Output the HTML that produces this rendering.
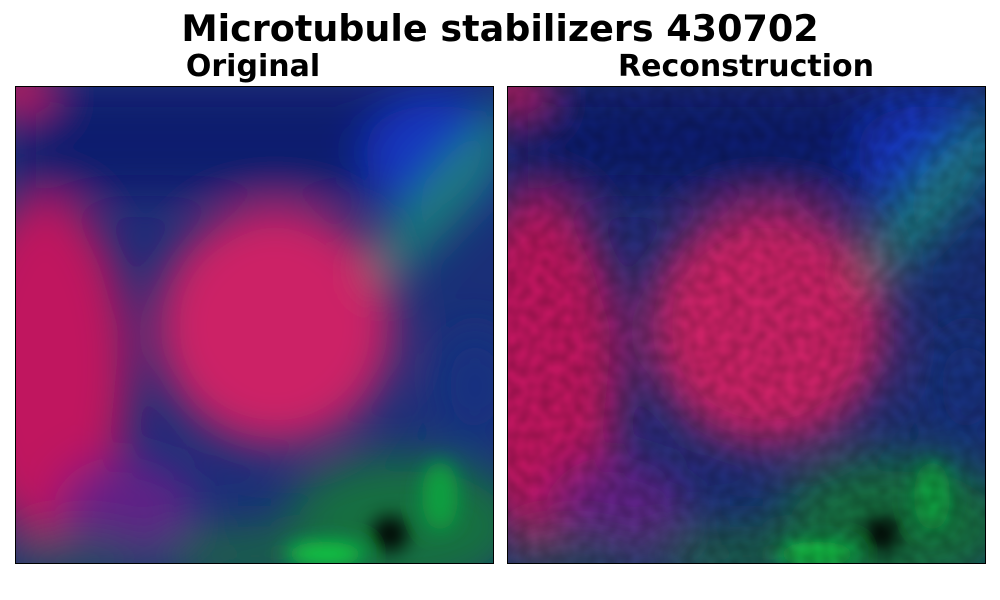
<!DOCTYPE html>
<html><head><meta charset="utf-8"><style>
body{margin:0;background:#fff;width:1000px;height:600px;overflow:hidden;font-family:"DejaVu Sans","Liberation Sans",sans-serif}
.t{position:absolute;font-weight:bold;color:#000;white-space:nowrap;transform:translateX(-50%)}
</style></head><body>
<div class="t" style="left:500px;top:7px;font-size:36.5px">Microtubule stabilizers 430702</div>
<div class="t" style="left:253px;top:49px;font-size:30px">Original</div>
<div class="t" style="left:746px;top:49px;font-size:30px">Reconstruction</div>
<svg width="1000" height="600" style="position:absolute;left:0;top:0">
<defs>
<filter id="b" x="-50%" y="-50%" width="200%" height="200%"><feGaussianBlur stdDeviation="22"/></filter>
<filter id="b2" x="-50%" y="-50%" width="200%" height="200%"><feGaussianBlur stdDeviation="10"/></filter>
<filter id="n"><feTurbulence type="fractalNoise" baseFrequency="0.09" numOctaves="1" seed="3"/><feColorMatrix values="0 0 0 0 0 0 0 0 0 0 0 0 0 0 0 0 0 0 0.35 -0.08"/></filter>
<clipPath id="c"><rect width="478" height="477"/></clipPath>
<g id="img">
<rect width="478" height="477" fill="#1a2f78"/>
<g filter="url(#b)">
<rect x="0" y="0" width="478" height="110" fill="#101a6e"/>
<ellipse cx="420" cy="70" rx="70" ry="60" fill="#1436c0"/>
<ellipse cx="0" cy="0" rx="35" ry="25" fill="#d01458"/>
<ellipse cx="30" cy="280" rx="85" ry="170" fill="#c0145e"/>
<ellipse cx="110" cy="420" rx="70" ry="50" fill="#6a2088" opacity="0.85"/>
<ellipse cx="260" cy="240" rx="120" ry="120" fill="#cc2466"/>
<ellipse cx="430" cy="110" rx="25" ry="110" fill="#1a8078" transform="rotate(40 430 110)"/>
<ellipse cx="390" cy="440" rx="120" ry="70" fill="#147040"/>
<ellipse cx="240" cy="470" rx="90" ry="30" fill="#1a6048"/>
<ellipse cx="60" cy="475" rx="80" ry="25" fill="#1a4a60"/>
<ellipse cx="460" cy="300" rx="40" ry="60" fill="#123080"/>
</g>
<g filter="url(#b2)">
<ellipse cx="310" cy="468" rx="40" ry="12" fill="#10d040"/>
<ellipse cx="375" cy="448" rx="18" ry="18" fill="#000"/>
<ellipse cx="425" cy="410" rx="18" ry="35" fill="#10a040"/>
</g>
</g>
</defs>
<g transform="translate(15,86)" clip-path="url(#c)"><use href="#img"/></g>
<g transform="translate(507,86)" clip-path="url(#c)"><use href="#img"/><rect width="478" height="477" filter="url(#n)"/></g>
<rect x="15.5" y="86.5" width="478" height="477" fill="none" stroke="#000"/>
<rect x="507.5" y="86.5" width="478" height="477" fill="none" stroke="#000"/>
</svg>
</body></html>
